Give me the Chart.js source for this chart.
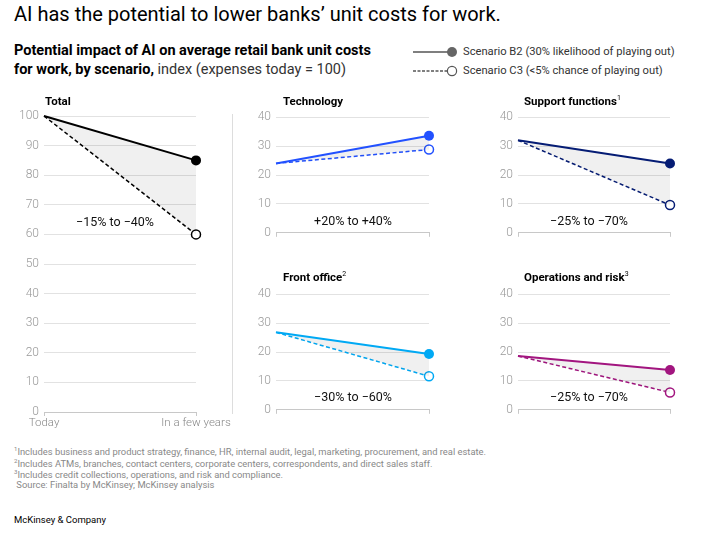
<!DOCTYPE html>
<html>
<head>
<meta charset="utf-8">
<script src="https://cdn.jsdelivr.net/npm/chart.js@4.4.1/dist/chart.umd.min.js"></script>
<style>
  body { margin: 0; background: #fff; font-family: Roboto, "Liberation Sans", sans-serif; }
  #page { position: relative; width: 705px; height: 534px; overflow: hidden; }
  .abs { position: absolute; white-space: nowrap; }
  canvas { position: absolute; }
  .title { left: 14px; top: 2px; font-size: 20px; color: #000; }
  .sub { left: 14px; top: 42px; font-size: 14.5px; line-height: 18.5px; color: #000; }
  .sub b { font-weight: 700; }
  .sub span { color: #333; }
  .legend { font-size: 11.2px; color: #333; }
  .ptitle { font-size: 11.5px; font-weight: 700; color: #000; }
  .ptitle sup { font-size: 7px; font-weight: 400; }
  .note { font-size: 12.5px; color: #111; transform: translate(-50%, -50%); }
  .foot { left: 14px; font-size: 9.4px; color: #888; }
  .foot sup { font-size: 6px; }
  .sep { left: 232px; top: 114px; width: 1px; height: 300px; background: #ddd; }
</style>
</head>
<body>
<div id="page">
  <div class="abs title">AI has the potential to lower banks’ unit costs for work.</div>
  <div class="abs sub"><b>Potential impact of AI on average retail bank unit costs<br>for work, by scenario,</b> <span>index (expenses today = 100)</span></div>

  <svg class="abs" style="left:410px;top:44px" width="52" height="36">
    <line x1="3" y1="8" x2="40" y2="8" stroke="#555" stroke-width="1.5"/>
    <circle cx="42" cy="8" r="5" fill="#666"/>
    <line x1="3" y1="27" x2="37" y2="27" stroke="#555" stroke-width="1.3" stroke-dasharray="3,1.5"/>
    <circle cx="42" cy="27" r="4.6" fill="#fff" stroke="#555" stroke-width="1.2"/>
  </svg>
  <div class="abs legend" style="left:463px;top:45px">Scenario B2 (30% likelihood of playing out)</div>
  <div class="abs legend" style="left:463px;top:64px">Scenario C3 (&lt;5% chance of playing out)</div>

  <div class="abs sep"></div>

  <canvas id="cTotal"></canvas>
  <canvas id="cTech"></canvas>
  <canvas id="cSupport"></canvas>
  <canvas id="cFront"></canvas>
  <canvas id="cOps"></canvas>

  <div class="abs ptitle" style="left:45px;top:94px">Total</div>
  <div class="abs ptitle" style="left:283px;top:94px">Technology</div>
  <div class="abs ptitle" style="left:524px;top:94px">Support functions<sup>1</sup></div>
  <div class="abs ptitle" style="left:283px;top:270px">Front office<sup>2</sup></div>
  <div class="abs ptitle" style="left:524px;top:270px">Operations and risk<sup>3</sup></div>

  <div class="abs note" style="left:115px;top:221px">−15% to −40%</div>
  <div class="abs note" style="left:353px;top:220px">+20% to +40%</div>
  <div class="abs note" style="left:589px;top:220px">−25% to −70%</div>
  <div class="abs note" style="left:353px;top:396px">−30% to −60%</div>
  <div class="abs note" style="left:589px;top:396px">−25% to −70%</div>

  <div class="abs foot" style="top:445px"><sup>1</sup>Includes business and product strategy, finance, HR, internal audit, legal, marketing, procurement, and real estate.</div>
  <div class="abs foot" style="top:456.5px"><sup>2</sup>Includes ATMs, branches, contact centers, corporate centers, correspondents, and direct sales staff.</div>
  <div class="abs foot" style="top:468px"><sup>3</sup>Includes credit collections, operations, and risk and compliance.</div>
  <div class="abs foot" style="top:479px">&nbsp;Source: Finalta by McKinsey; McKinsey analysis</div>
  <div class="abs" style="left:14px;top:514px;font-size:9.5px;color:#000">McKinsey &amp; Company</div>
</div>

<script>
// x categories
const periods = ["Today", "In a few years"];

// index values (expenses today = 100), B2 = scenario B2, C3 = scenario C3
const totalB2 = [100, 85];
const totalC3 = [100, 60];
const techB2 = [24, 33.6];
const techC3 = [24, 28.8];
const supportB2 = [32, 24];
const supportC3 = [32, 9.6];
const frontB2 = [26.8, 19.3];
const frontC3 = [26.8, 11.6];
const opsB2 = [18.6, 13.8];
const opsC3 = [18.6, 6];

const totalTicks = [0, 10, 20, 30, 40, 50, 60, 70, 80, 90, 100];
const smallTicks = [0, 10, 20, 30, 40];

function makePanel(id, box, b2, c3, color, yMax, showX) {
    const cv = document.getElementById(id);
    cv.style.left = box.left + "px";
    cv.style.top = box.top + "px";
    cv.style.width = box.width + "px";
    cv.style.height = box.height + "px";
    const ticksArr = yMax === 100 ? totalTicks : smallTicks;
    return new Chart(cv.getContext("2d"), {
        type: "line",
        data: {
            labels: periods,
            datasets: [
                {
                    label: "Scenario B2",
                    data: b2,
                    borderColor: color,
                    backgroundColor: "rgba(0,0,0,0.06)",
                    borderWidth: 2,
                    fill: "+1",
                    tension: 0,
                    clip: false,
                    pointRadius: [0, 5],
                    pointBackgroundColor: color,
                    pointBorderColor: color,
                    pointBorderWidth: 0,
                },
                {
                    label: "Scenario C3",
                    data: c3,
                    borderColor: color,
                    borderWidth: 1.5,
                    borderDash: [4, 2.5],
                    fill: false,
                    tension: 0,
                    clip: false,
                    pointRadius: [0, 4.5],
                    pointBackgroundColor: "#fff",
                    pointBorderColor: color,
                    pointBorderWidth: 1.5,
                },
            ],
        },
        options: {
            responsive: false,
            animation: false,
            devicePixelRatio: 1,
            layout: {
                padding: { top: box.padTop, right: box.padRight, left: 0, bottom: 0 },
            },
            plugins: {
                legend: { display: false },
                tooltip: { enabled: false },
            },
            scales: {
                x: {
                    offset: false,
                    border: { display: true, color: "#c8c8c8" },
                    grid: {
                        drawOnChartArea: false,
                        drawTicks: true,
                        tickLength: 4,
                        color: "#c8c8c8",
                    },
                    ticks: {
                        display: showX,
                        maxRotation: 0,
                        padding: 0,
                        color: "#888",
                        font: { family: "Roboto", size: 11.5, weight: "300" },
                    },
                    afterFit: (s) => { s.height = box.xHeight; },
                },
                y: {
                    min: 0,
                    max: yMax,
                    border: { display: false },
                    grid: { color: "#e2e2e2", drawTicks: false },
                    afterBuildTicks: (s) => { s.ticks = ticksArr.map((v) => ({ value: v })); },
                    ticks: {
                        padding: 5,
                        color: "#999",
                        font: { family: "Roboto", size: 12, weight: "300" },
                    },
                    afterFit: (s) => { s.width = box.yWidth; },
                },
            },
        },
    });
}

makePanel("cTotal", { left: 0, top: 100, width: 232, height: 335, padTop: 16, padRight: 36, xHeight: 23, yWidth: 44 },
    totalB2, totalC3, "#000000", 100, true);
makePanel("cTech", { left: 240, top: 105, width: 200, height: 140, padTop: 12, padRight: 11, xHeight: 9, yWidth: 36 },
    techB2, techC3, "#2251ff", 40, false);
makePanel("cSupport", { left: 478, top: 105, width: 205, height: 140, padTop: 12, padRight: 13, xHeight: 9, yWidth: 40 },
    supportB2, supportC3, "#051c74", 40, false);
makePanel("cFront", { left: 240, top: 282, width: 200, height: 140, padTop: 11, padRight: 11, xHeight: 9, yWidth: 36 },
    frontB2, frontC3, "#00a9f4", 40, false);
makePanel("cOps", { left: 478, top: 282, width: 205, height: 140, padTop: 11, padRight: 13, xHeight: 9, yWidth: 40 },
    opsB2, opsC3, "#a2157f", 40, false);
</script>
</body>
</html>
